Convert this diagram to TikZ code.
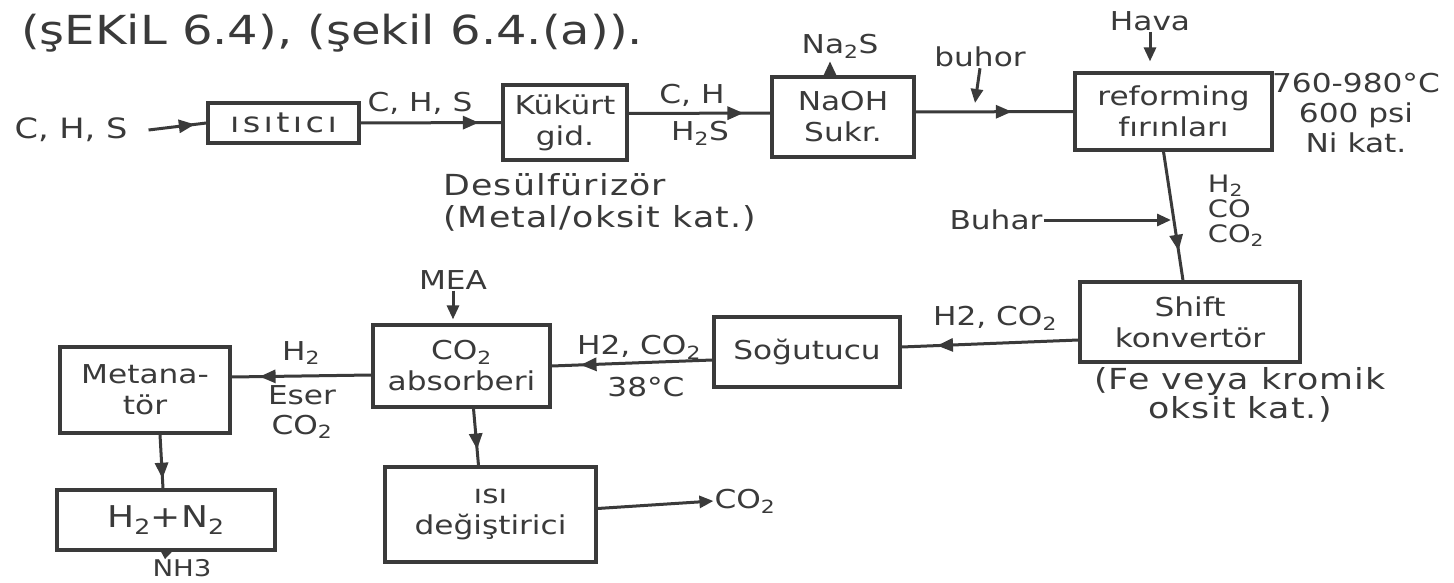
\documentclass[tikz,border=0pt]{standalone}
\usepackage{fontspec}
\setmainfont[FakeStretch=1.2]{DejaVu Sans}
\usetikzlibrary{arrows.meta,decorations.markings,calc}
\definecolor{ink}{HTML}{3A3A3A}
\tikzset{
  box/.style={draw=ink, line width=3.2pt, text=ink, align=center, inner sep=2pt, font=\fontsize{26}{31}\selectfont},
  lbl/.style={text=ink, inner sep=1pt, align=center, font=\fontsize{26}{30}\selectfont},
  widelbl/.style={text=ink, inner sep=1pt, font=\fontsize{29}{30}\selectfont\addfontfeature{LetterSpace=4}},
  flow/.style={draw=ink, line width=3pt, postaction={decorate}, decoration={markings, mark=at position #1 with {\arrow{Triangle[length=16pt,width=13pt]}}}},
  flow/.default=0.8,
  tipline/.style={draw=ink, line width=3pt, -{Triangle[length=14pt,width=12pt]}},
}
\begin{document}
\begin{tikzpicture}[x=1pt,y=-1pt]
\useasboundingbox (0,0) rectangle (1454,583);
\fill[white] (0,0) rectangle (1454,583);

% title
\node[lbl, font=\fontsize{40}{44}\selectfont, anchor=west] (title) at (20,33) {(şEKiL 6.4), (şekil 6.4.(a)).};

% boxes
\node[box, minimum width=151pt, minimum height=40pt, font=\fontsize{28}{31}\selectfont\addfontfeature{LetterSpace=12}] (isi) at (283.5,123) {ısıtıcı};
\node[box, minimum width=124pt, minimum height=75pt] (kuk) at (565,122.5) {Kükürt\\gid.};
\node[box, minimum width=142pt, minimum height=80pt] (naoh) at (843,117) {NaOH\\Sukr.};
\node[box, minimum width=197pt, minimum height=77pt] (ref) at (1173.5,111.5) {reforming\\fırınları};
\node[box, minimum width=220pt, minimum height=80pt] (shift) at (1190,322) {Shift\\konvertör};
\node[box, minimum width=186pt, minimum height=70pt] (sog) at (807,352) {Soğutucu};
\node[box, minimum width=177pt, minimum height=82pt] (abs) at (461.5,366) {CO\textsubscript{2}\\absorberi};
\node[box, minimum width=170pt, minimum height=86pt] (met) at (145,390) {Metana-\\tör};
\node[box, minimum width=218pt, minimum height=60pt, font=\fontsize{30}{31}\selectfont] (hn) at (166,520) {H\textsubscript{2}+N\textsubscript{2}};
\node[box, minimum width=211pt, minimum height=95pt] (isidg) at (490.5,514.5) {ısı\\değiştirici};

% labels
\node[lbl, font=\fontsize{28}{32}\selectfont] (cin) at (71,130) {C, H, S};
\node[lbl] (l1) at (420,103) {C, H, S};
\node[lbl] (l2) at (692,95) {C, H};
\node[lbl] (l3) at (700,133) {H\textsubscript{2}S};
\node[widelbl, align=left, anchor=north west, font=\fontsize{29}{32}\selectfont\addfontfeature{LetterSpace=4}] (desul) at (442,172) {Desülfürizör\\(Metal/oksit kat.)};
\node[lbl] (na2s) at (840,46) {Na\textsubscript{2}S};
\node[lbl] (buhor) at (980,57) {buhor};
\node[lbl] (hava) at (1150,21) {Hava};
\node[lbl] (temp) at (1356,113) {760-980°C\\600 psi\\Ni kat.};
\node[lbl, align=left, font=\fontsize{24}{25}\selectfont] (gas) at (1236,211) {H\textsubscript{2}\\CO\\CO\textsubscript{2}};
\node[lbl] (buhar) at (996,220) {Buhar};
\node[lbl] (l4) at (995,318) {H2, CO\textsubscript{2}};
\node[widelbl, align=center, font=\fontsize{29}{25}\selectfont\addfontfeature{LetterSpace=4}] (fe) at (1240,395) {(Fe veya kromik\\oksit kat.)};
\node[lbl] (l5) at (639,347) {H2, CO\textsubscript{2}};
\node[lbl] (l6) at (646,387) {38°C};
\node[lbl] (mea) at (453,280) {MEA};
\node[lbl] (h2) at (301,353) {H\textsubscript{2}};
\node[lbl] (eser) at (302,412) {Eser\\CO\textsubscript{2}};
\node[lbl, font=\fontsize{23}{25}\selectfont] (nh3) at (182,568) {NH3};
\node[lbl] (co2out) at (745,501) {CO\textsubscript{2}};

\coordinate (bt) at (975,103);
\coordinate (bv) at (1171,220);

% connectors
\draw[flow=0.8] ([xshift=20pt]cin.east) -- (isi.west);
\draw[flow=0.84] (isi.east) -- (kuk.west);
\draw[flow=0.81] ([yshift=9pt]kuk.east) -- ([yshift=4pt]naoh.west);
\draw[flow=0.61] ([yshift=5pt]naoh.east) -- (ref.west);
\draw[tipline] ([xshift=-13pt]naoh.north) -- ([xshift=-13pt,yshift=-2pt]naoh.north |- na2s.south);
\draw[tipline] (buhor.south) -- (bt);
\draw[tipline] (hava.south) -- ([yshift=10pt]hava.south |- ref.north);
\draw[flow=0.77] ([xshift=-10pt]ref.south) -- ([xshift=-7pt]shift.north);
\draw[tipline] (buhar.east) -- (bv);
\draw[flow=0.8] ([yshift=-18pt]shift.west) -- ([yshift=5pt]sog.east);
\draw[flow=0.82] ([yshift=-8pt]sog.west) -- (abs.east);
\draw[tipline] (mea.south) -- ([yshift=4pt]mea.south |- abs.north);
\draw[flow=0.8] ([yshift=-9pt]abs.west) -- ([yshift=13pt]met.east);
\draw[flow=0.82] ([xshift=15pt]met.south) -- ([xshift=-3pt]hn.north);
\draw[draw=ink, line width=3pt, -{Triangle[length=8pt,width=11pt]}] (hn.south) -- ([xshift=-17pt,yshift=-1pt]nh3.north);
\draw[flow=0.72] ([xshift=12pt]abs.south) -- ([xshift=-12pt]isidg.north);
\draw[tipline] ([yshift=6pt]isidg.east) -- (co2out.west);
\end{tikzpicture}
\end{document}
